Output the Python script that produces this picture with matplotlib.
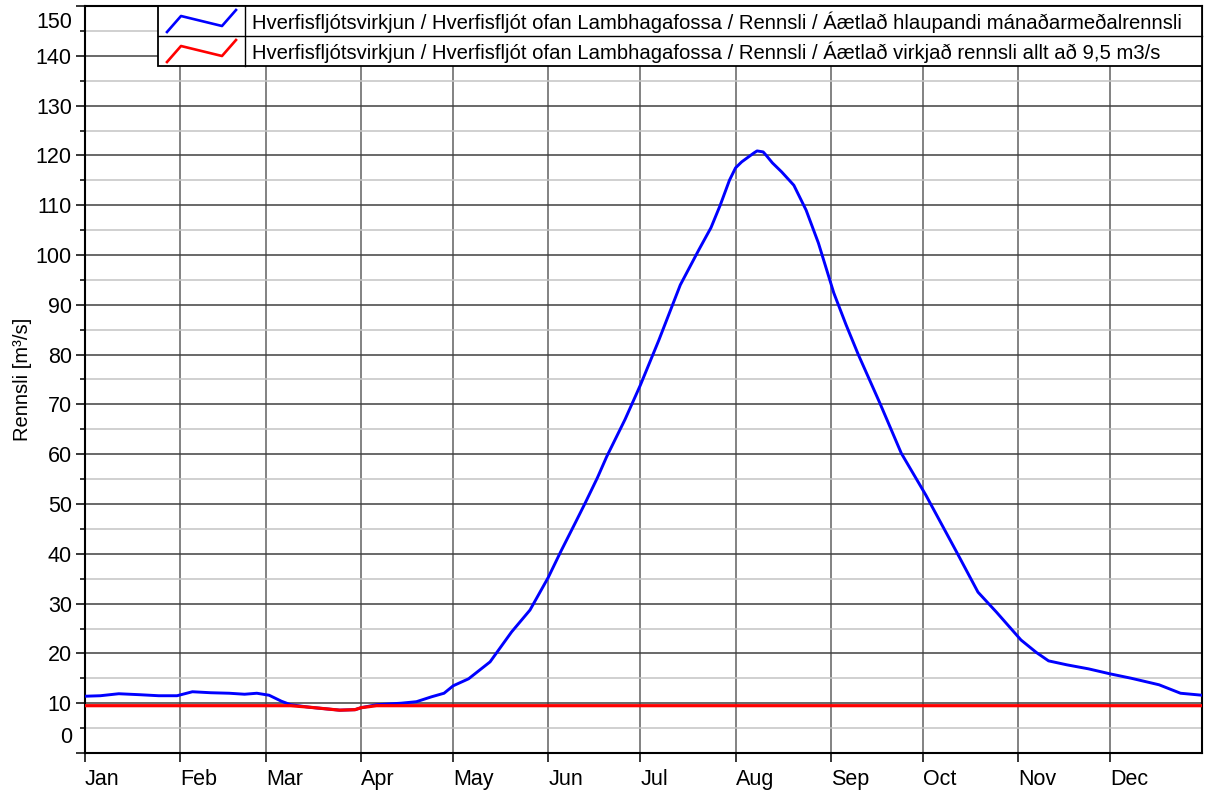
import matplotlib
matplotlib.use("Agg")
import matplotlib.pyplot as plt
from matplotlib.lines import Line2D
from matplotlib.patches import Rectangle
from matplotlib.ticker import MultipleLocator
import numpy as np

plt.rcParams['font.family'] = ['Liberation Sans', 'DejaVu Sans']

# === Data ===
days = [0, 5, 11, 18, 24, 30, 35, 41, 47, 52, 56, 60, 64, 67, 73, 78, 83, 88, 90, 95,
        103, 108, 113, 117, 120, 125, 132, 139, 145, 151, 155, 160, 163, 167, 170, 176,
        181, 187, 194, 200, 204, 207, 210, 212, 214, 216, 218, 219, 221, 222, 224, 227,
        231, 235, 239, 244, 248, 252, 259, 266, 274, 284, 291, 297, 305, 310, 314, 320,
        327, 334, 341, 350, 357, 364]
flow = [11.4, 11.5, 11.9, 11.7, 11.5, 11.5, 12.3, 12.1, 12.0, 11.8, 12.0, 11.6, 10.4, 9.7,
        9.2, 8.9, 8.6, 8.7, 9.1, 9.7, 10.0, 10.3, 11.3, 12.0, 13.5, 14.9, 18.3, 24.3, 28.7,
        35.3, 40.4, 46.5, 50.2, 55.3, 59.5, 67.0, 73.9, 82.9, 94.0, 101.0, 105.5, 110.0,
        115.0, 117.5, 118.7, 119.6, 120.5, 120.9, 120.7, 120.0, 118.5, 116.7, 114.0, 109.0,
        102.4, 92.4, 86.0, 80.0, 70.3, 60.2, 51.8, 40.4, 32.3, 28.3, 22.7, 20.2, 18.5,
        17.7, 16.9, 15.9, 15.0, 13.7, 12.0, 11.6]
capacity = 9.5

month_starts = [0, 31, 59, 90, 120, 151, 181, 212, 243, 273, 304, 334]
month_names = ["Jan", "Feb", "Mar", "Apr", "May", "Jun", "Jul", "Aug", "Sep", "Oct", "Nov", "Dec"]

label_blue = "Hverfisfljótsvirkjun / Hverfisfljót ofan Lambhagafossa / Rennsli / Áætlað hlaupandi mánaðarmeðalrennsli"
label_red = "Hverfisfljótsvirkjun / Hverfisfljót ofan Lambhagafossa / Rennsli / Áætlað virkjað rennsli allt að 9,5 m3/s"

W, H = 1214, 796
fig = plt.figure(figsize=(W / 100, H / 100), dpi=100)
ax = fig.add_axes([85 / W, (H - 753) / H, (1202 - 85) / W, (753 - 6) / H])

days = np.array(days)
flow = np.array(flow)
used = np.minimum(flow, capacity)

ax.plot(days, flow, color="#0000ff", lw=2.1, zorder=3, solid_joinstyle="round")
ax.plot(days, used, color="#ff0000", lw=2.3, zorder=4, solid_joinstyle="round")

ax.set_xlim(0, 364)
ax.set_ylim(0, 150)

# grid
ax.yaxis.set_major_locator(MultipleLocator(10))
ax.yaxis.set_minor_locator(MultipleLocator(5))
ax.grid(which="major", axis="y", color="#404040", lw=1.1)
ax.grid(which="minor", axis="y", color="#c4c4c4", lw=1.1)
ax.set_xticks(month_starts)
ax.set_xticklabels(month_names, ha="left")
ax.grid(which="major", axis="x", color="#606060", lw=1.1)
ax.set_axisbelow(True)

ax.tick_params(axis="both", which="major", length=6.5, width=1.1, direction="out",
               labelsize=15.5, pad=3)
ax.tick_params(axis="y", which="minor", length=3.6, width=1.1)
ax.tick_params(axis="x", pad=5)

ylabels = [str(v) for v in range(0, 151, 10)]
ylabels[0] = ""
ylabels[-1] = ""
ax.set_yticks(range(0, 151, 10))
ax.set_yticklabels(ylabels)
# end labels pushed inside the axis range
ax.annotate("150", xy=(0, 150), xycoords=("axes fraction", "data"), xytext=(-9.5, -12),
            textcoords="offset points", ha="right", va="center", fontsize=15.5)
ax.annotate("0", xy=(0, 0), xycoords=("axes fraction", "data"), xytext=(-9.5, 11),
            textcoords="offset points", ha="right", va="center", fontsize=15.5)

for s in ax.spines.values():
    s.set_linewidth(1.5)
    s.set_color("black")

ax.set_ylabel("Rennsli [m³/s]", fontsize=14.5)
ax.yaxis.set_label_coords(-53 / (1202 - 85), 0.5)

# === Legend box drawn as a small table ===
def px(x, y):
    return x / W, 1 - y / H

x0, x1, xs = 158, 1202, 245
y0, ym, y1 = 6, 36, 66
fig.add_artist(Rectangle(px(x0, y1), (x1 - x0) / W, (y1 - y0) / H, transform=fig.transFigure,
                         facecolor="white", edgecolor="black", lw=1.3, zorder=10))
fig.add_artist(Line2D([x0 / W, x1 / W], [1 - ym / H] * 2, transform=fig.transFigure,
                      color="black", lw=1.0, zorder=11))
fig.add_artist(Line2D([xs / W] * 2, [1 - y0 / H, 1 - y1 / H], transform=fig.transFigure,
                      color="black", lw=1.0, zorder=11))

icon_x = [167, 181, 222, 236]
icon_dy = [0, -16, -6, -22]
for row_y, col, lab in [(32, "#0000ff", label_blue), (62, "#ff0000", label_red)]:
    xs_f = [x / W for x in icon_x]
    ys_f = [1 - (row_y + d) / H for d in icon_dy]
    fig.add_artist(Line2D(xs_f, ys_f, transform=fig.transFigure, color=col, lw=1.9, zorder=12))
    fig.text(252 / W, 1 - (row_y - 10) / H, lab, fontsize=14.6, ha="left", va="center", zorder=12)

fig.savefig("out.png", dpi=100)
